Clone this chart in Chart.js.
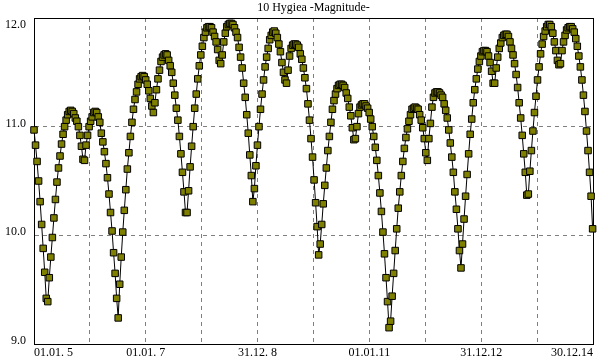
<!DOCTYPE html>
<html>
<head>
<meta charset="utf-8">
<title>10 Hygiea -Magnitude-</title>
<script src="https://cdn.jsdelivr.net/npm/chart.js@4.4.0/dist/chart.umd.min.js"></script>
<style>
    html, body { margin: 0; padding: 0; background: #fff; }
    canvas { display: block; }
</style>
</head>
<body>
<canvas id="magChart" width="600" height="360"></canvas>
<script>
// Chart text
const chartTitle = '10 Hygiea -Magnitude-';
const xTickLabels = ['01.01. 5', '01.01. 7', '31.12. 8', '01.01.11', '31.12.12', '30.12.14'];
const yTicks = [9.0, 10.0, 11.0, 12.0];

// One value every 10 days, starting 01.01.2005
const stepDays = 10;
const mag2005 = [10.97, 10.83, 10.68, 10.50, 10.31, 10.10, 9.88, 9.66, 9.42, 9.39,
    9.61, 9.80, 9.98, 10.16, 10.33, 10.49, 10.62, 10.73, 10.84, 10.93,
    11.00, 11.06, 11.11, 11.14, 11.15, 11.14, 11.12, 11.08, 11.05, 11.00,
    10.92, 10.82, 10.70, 10.69, 10.83, 10.92, 11.00];
const mag2006 = [11.05, 11.09, 11.13, 11.14, 11.13, 11.09, 11.04,
    10.94, 10.86, 10.77, 10.66, 10.53, 10.38, 10.21, 10.04, 9.84, 9.65,
    9.42, 9.24, 9.55, 9.80, 10.03, 10.23, 10.42, 10.61, 10.76, 10.91,
    11.04, 11.16, 11.25, 11.32, 11.39, 11.44, 11.46, 11.47, 11.46, 11.43];
const mag2007 = [11.39, 11.33, 11.26, 11.19, 11.13, 11.22, 11.34, 11.44, 11.52, 11.60,
    11.64, 11.66, 11.67, 11.66, 11.61, 11.56, 11.50, 11.40, 11.29, 11.17,
    11.06, 10.91, 10.75, 10.58, 10.40, 10.21, 10.21, 10.41, 10.63, 10.82,
    11.00, 11.17, 11.30, 11.44, 11.56, 11.66];
const mag2008 = [11.74, 11.82, 11.87, 11.91, 11.92, 11.92, 11.91, 11.87, 11.83, 11.78,
    11.71, 11.61, 11.58, 11.66, 11.78, 11.86, 11.92, 11.94, 11.95, 11.95,
    11.94, 11.91, 11.87, 11.82, 11.73, 11.64, 11.54, 11.40, 11.27, 11.11,
    10.94, 10.74, 10.55, 10.31, 10.43, 10.64, 10.83];
const mag2009 = [11.00, 11.16, 11.30, 11.43, 11.55, 11.64, 11.72, 11.80, 11.84, 11.87,
    11.88, 11.86, 11.82, 11.76, 11.69, 11.59, 11.50, 11.43, 11.40, 11.52,
    11.65, 11.72, 11.75, 11.76, 11.76, 11.75, 11.73, 11.67, 11.62, 11.54,
    11.45, 11.35, 11.21, 11.06, 10.89, 10.72];
const mag2010 = [10.51, 10.30, 10.08, 9.82, 9.92, 10.10, 10.29, 10.46, 10.62, 10.78,
    10.91, 11.04, 11.16, 11.24, 11.30, 11.35, 11.38, 11.39, 11.39, 11.38,
    11.36, 11.31, 11.26, 11.18, 11.10, 10.99, 10.88, 10.89, 11.00, 11.12,
    11.18, 11.20, 11.21, 11.21, 11.19, 11.17, 11.13];
const mag2011 = [11.07, 11.00, 10.91, 10.81, 10.69, 10.55, 10.39, 10.22, 10.03, 9.83,
    9.61, 9.39, 9.15, 9.21, 9.44, 9.65, 9.86, 10.06, 10.25, 10.40,
    10.55, 10.68, 10.80, 10.90, 10.98, 11.05, 11.11, 11.16, 11.17, 11.18,
    11.17, 11.16, 11.11, 11.06, 10.99, 10.89];
const mag2012 = [10.76, 10.69, 10.89, 11.03, 11.18, 11.27, 11.31, 11.32, 11.32, 11.31,
    11.29, 11.27, 11.21, 11.15, 11.08, 10.97, 10.85, 10.72, 10.58, 10.40,
    10.24, 10.06, 9.86, 9.70, 9.92, 10.15, 10.36, 10.56, 10.75, 10.93,
    11.07, 11.22, 11.34, 11.44, 11.53, 11.60, 11.65];
const mag2013 = [11.69, 11.70, 11.70, 11.69, 11.65, 11.59, 11.51, 11.40, 11.40, 11.54,
    11.64, 11.72, 11.77, 11.82, 11.84, 11.85, 11.85, 11.83, 11.78, 11.72,
    11.66, 11.58, 11.48, 11.36, 11.22, 11.08, 10.92, 10.75, 10.58, 10.37,
    10.38, 10.59, 10.78, 10.96, 11.13, 11.28];
const mag2014 = [11.43, 11.55, 11.67, 11.76, 11.83, 11.88, 11.92, 11.94, 11.94, 11.92,
    11.86, 11.78, 11.70, 11.61, 11.57, 11.58, 11.70, 11.78, 11.84, 11.89,
    11.91, 11.92, 11.92, 11.90, 11.87, 11.81, 11.74, 11.65, 11.55, 11.43,
    11.29, 11.14, 10.96, 10.78, 10.58, 10.36, 10.06];

const FONT_FAMILY = '"Liberation Serif", "Times New Roman", serif';

// Build points: x is years since 01.01.2005
const magnitudes = [].concat(mag2005, mag2006, mag2007, mag2008, mag2009,
    mag2010, mag2011, mag2012, mag2013, mag2014);
const points = magnitudes.map((m, i) => ({ x: i * stepDays / 365.25, y: m }));

// Black frame round the plot + title centred over the plot
const framePlugin = {
    id: 'framePlugin',
    beforeDraw(chart) {
        // keep the top y label inside the frame, like the original
        const items = chart.scales.y.getLabelItems();
        items.forEach(item => {
            if (item.label === yTicks[yTicks.length - 1].toFixed(1) && !item.moved) {
                item.options.translation[1] += 10;
                item.moved = true;
            }
        });
    },
    beforeDatasetsDraw(chart) {
        const { ctx, chartArea } = chart;
        ctx.save();
        ctx.strokeStyle = '#000';
        ctx.lineWidth = 1;
        ctx.strokeRect(Math.round(chartArea.left) + 0.5, Math.round(chartArea.top) + 0.5,
            Math.round(chartArea.right - chartArea.left), Math.round(chartArea.bottom - chartArea.top));
        ctx.restore();
    },
    afterDraw(chart) {
        const { ctx, chartArea } = chart;
        ctx.save();
        ctx.fillStyle = '#000';
        ctx.font = '12px ' + FONT_FAMILY;
        ctx.textAlign = 'center';
        ctx.textBaseline = 'middle';
        ctx.fillText(chartTitle, (chartArea.left + chartArea.right) / 2, 8);
        ctx.restore();
    }
};

const ctx = document.getElementById('magChart').getContext('2d');
const magChart = new Chart(ctx, {
    type: 'line',
    data: {
        datasets: [{
            data: points,
            borderColor: '#000',
            borderWidth: 1,
            tension: 0,
            pointStyle: 'rect',
            pointRadius: 4.6,
            pointHoverRadius: 4.6,
            pointBackgroundColor: '#808000',
            pointBorderColor: '#000',
            pointBorderWidth: 1,
            clip: false
        }]
    },
    options: {
        responsive: false,
        devicePixelRatio: 1,
        animation: false,
        events: [],
        layout: { padding: { left: 0, right: 7, top: 18, bottom: 0 } },
        plugins: {
            legend: { display: false },
            tooltip: { enabled: false },
            title: { display: false }
        },
        scales: {
            x: {
                type: 'linear',
                min: 0,
                max: 10,
                afterFit: scale => { scale.height = 16; },
                grid: { color: '#808080', lineWidth: 1, drawTicks: false },
                border: { display: true, color: '#000', dash: [4, 4] },
                ticks: {
                    stepSize: 1,
                    autoSkip: false,
                    maxRotation: 0,
                    align: 'inner',
                    padding: 2,
                    color: '#000',
                    font: { family: FONT_FAMILY, size: 12 },
                    callback: value => (value % 2 === 0 ? xTickLabels[value / 2] : '')
                }
            },
            y: {
                min: yTicks[0],
                max: yTicks[yTicks.length - 1],
                afterFit: scale => { scale.width = 34; },
                afterBuildTicks: scale => { scale.ticks = yTicks.map(v => ({ value: v })); },
                grid: { color: '#808080', lineWidth: 1, drawTicks: false },
                border: { display: true, color: '#000', dash: [4, 4] },
                ticks: {
                    padding: 8,
                    labelOffset: -3,
                    color: '#000',
                    font: { family: FONT_FAMILY, size: 12 },
                    callback: value => value.toFixed(1)
                }
            }
        }
    },
    plugins: [framePlugin]
});
</script>
</body>
</html>
